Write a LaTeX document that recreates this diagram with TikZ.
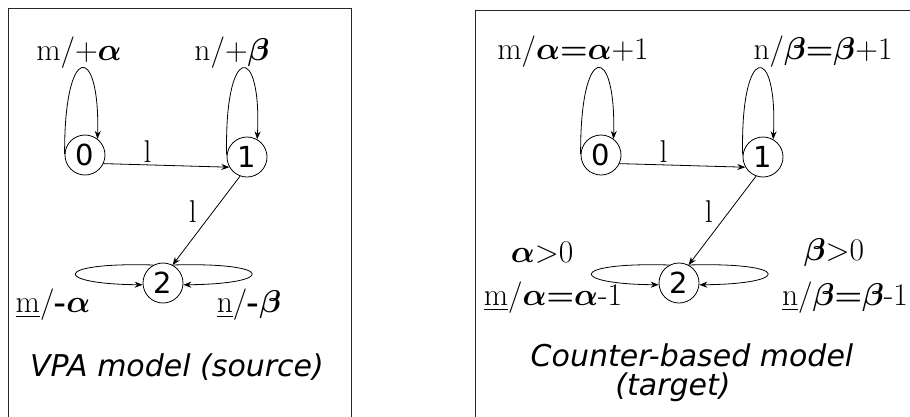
\RequirePackage{fix-cm}
\documentclass[tikz,border=0pt]{standalone}
\usepackage{amsmath}
\usepackage{fontspec}
\newfontfamily\dejavu{DejaVu Sans}
\usetikzlibrary{arrows.meta}
\newcommand{\ba}{\boldsymbol{\alpha}}
\newcommand{\bb}{\boldsymbol{\beta}}
\begin{document}
\begin{tikzpicture}[x=1pt,y=-1pt,
  st/.style={circle,draw,line width=0.8pt,minimum size=40pt,inner sep=0pt,font=\dejavu\fontsize{29}{32}\selectfont},
  lbl/.style={font=\fontsize{31.5}{35}\selectfont,inner sep=0pt},
  captxt/.style={font=\dejavu\itshape\fontsize{30}{34}\selectfont,inner sep=0pt},
  tr/.style={line width=0.8pt,-{Stealth[length=8pt,width=6pt]}},
  frame/.style={line width=1pt,draw=black!85}]
\useasboundingbox (0,0) rectangle (910,416);
% frames
\draw[frame] (8,420) |- (351,8) -- (351,420);
\draw[frame] (475,420) |- (915,10);
% ---------- left automaton ----------
\node[st] (a0) at (85,155) {0};
\node[st] (a1) at (247,157) {1};
\node[st] (a2) at (163,283) {2};
\draw[tr] (a0.-25) -- node[lbl,above=2pt,pos=0.35] (al1) {l} (a1.-150);
\draw[tr] (a1.-110) -- node[lbl,left=16pt,pos=0.4] (al2) {l} (a2.62);
\draw[tr] (a0.177) .. controls (64,42) and (100,42) .. (a0.52);
\draw[tr] (a1.175) .. controls (224,42) and (262,42) .. (a1.60);
\draw[tr] (a2.118) .. controls (52,262) and (52,284) .. (a2.185);
\draw[tr] (a2.62) .. controls (276,262) and (276,284) .. (a2.-5);
\node[lbl] (am) at (79,53) {m/+$\ba$};
\node[lbl] (an) at (232,53) {n/+$\bb$};
\node[lbl] (amd) at (53,305) {\underline{m}/\textbf{-}$\ba$};
\node[lbl] (and) at (249,305) {\underline{n}/\textbf{-}$\bb$};
\node[captxt] (acap) at (177,367) {VPA model (source)};
% ---------- right automaton ----------
\node[st] (b0) at (601,155) {0};
\node[st] (b1) at (763,157) {1};
\node[st] (b2) at (679,283) {2};
\draw[tr] (b0.-25) -- node[lbl,above=2pt,pos=0.35] (bl1) {l} (b1.-150);
\draw[tr] (b1.-110) -- node[lbl,left=16pt,pos=0.4] (bl2) {l} (b2.62);
\draw[tr] (b0.177) .. controls (580,42) and (616,42) .. (b0.52);
\draw[tr] (b1.175) .. controls (740,42) and (778,42) .. (b1.60);
\draw[tr] (b2.118) .. controls (568,262) and (568,284) .. (b2.185);
\draw[tr] (b2.62) .. controls (792,262) and (792,284) .. (b2.-5);
\node[lbl] (bm) at (573,52) {m/$\boldsymbol{\alpha{=}\alpha}$+1};
\node[lbl] (bn) at (823,52) {n/$\boldsymbol{\beta{=}\beta}$+1};
\node[lbl] (bg1) at (542,253) {$\ba$>0};
\node[lbl] (bmd) at (553,298) {\underline{m}/$\boldsymbol{\alpha{=}\alpha}$-1};
\node[lbl] (bg2) at (834,253) {$\bb$>0};
\node[lbl] (bnd) at (845,298) {\underline{n}/$\boldsymbol{\beta{=}\beta}$-1};
\node[captxt] (bcap1) at (692,355) {Counter-based model};
\node[captxt] (bcap2) at (673,387) {(target)};
\end{tikzpicture}
\end{document}
